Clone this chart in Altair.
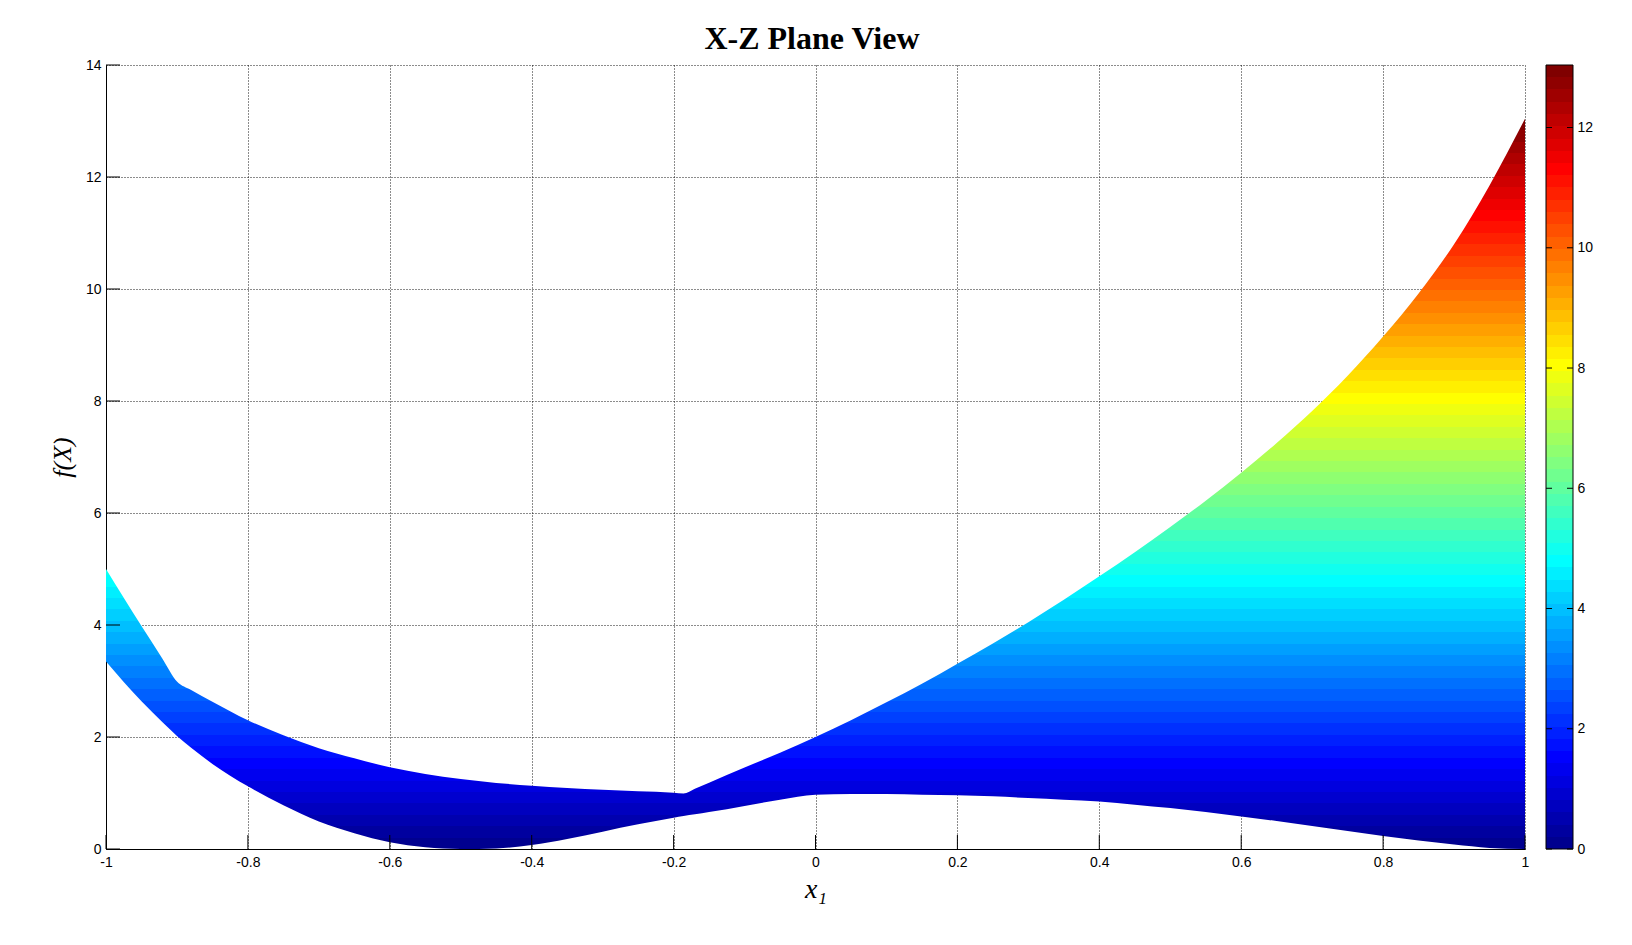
import altair as alt
import pandas as pd

# ---- data ----
X = [-1, -0.95, -0.92, -0.9, -0.88, -0.85, -0.8, -0.75, -0.7, -0.65, -0.6, -0.55,
     -0.5, -0.45, -0.4, -0.35, -0.3, -0.25, -0.2, -0.186, -0.17, -0.15, -0.1,
     -0.05, 0, 0.05, 0.1, 0.15, 0.2, 0.25, 0.3, 0.35, 0.4,
     0.45, 0.5, 0.55, 0.6, 0.65, 0.7, 0.75, 0.8, 0.85, 0.9,
     0.95, 1.0]
UPPER = [5.0, 3.98, 3.39, 2.99, 2.84, 2.63, 2.30, 2.03, 1.80, 1.62, 1.46, 1.34,
         1.25, 1.18, 1.13, 1.09, 1.06, 1.03, 1.005, 0.99, 1.075, 1.185, 1.455,
         1.72, 2.0, 2.30, 2.62, 2.95, 3.31, 3.67, 4.05, 4.45, 4.87,
         5.30, 5.75, 6.22, 6.72, 7.25, 7.82, 8.45, 9.15, 9.92, 10.8,
         11.85, 13.04]
LOWER = [3.35, 2.64, 2.26, 2.02, 1.81, 1.52, 1.12, 0.78, 0.49, 0.28, 0.12, 0.03,
         0.0, 0.01, 0.07, 0.18, 0.31, 0.44, 0.56, 0.59, 0.62, 0.66, 0.77,
         0.88, 0.97, 0.98, 0.98, 0.97, 0.96, 0.94, 0.91, 0.88, 0.85,
         0.79, 0.73, 0.66, 0.58, 0.50, 0.41, 0.32, 0.23, 0.15, 0.08,
         0.02, 0.0]
XTICKS = [-1, -0.8, -0.6, -0.4, -0.2, 0, 0.2, 0.4, 0.6, 0.8, 1]
YTICKS = [0, 2, 4, 6, 8, 10, 12, 14]
CTICKS = [0, 2, 4, 6, 8, 10, 12]
CMIN, CMAX = 0.0, 13.04

TITLE = "X-Z Plane View"
XTITLE = "x\u2081"
YTITLE = "f(X)"


# ---- MATLAB jet(64) colour map (style) ----
def jet(m=64):
    n = -(-m // 4)
    u = [i / n for i in range(1, n + 1)] + [1.0] * (n - 1) + [i / n for i in range(n, 0, -1)]
    g0 = -(-n // 2) - (1 if m % 4 == 1 else 0)
    cols = [[0.0, 0.0, 0.0] for _ in range(m)]
    for k, val in enumerate(u):
        gi, ri, bi = g0 + k, g0 + k + n, g0 + k - n
        if 0 <= ri < m:
            cols[ri][0] = val
        if 0 <= gi < m:
            cols[gi][1] = val
        if 0 <= bi < m:
            cols[bi][2] = val
    return ["#%02x%02x%02x" % tuple(int(round(c * 255)) for c in col) for col in cols]


JET = jet(64)
stops = []
for i, c in enumerate(JET):
    stops.append(alt.GradientStop(offset=i / len(JET), color=c))
    stops.append(alt.GradientStop(offset=(i + 1) / len(JET), color=c))
grad = alt.LinearGradient(gradient="linear", stops=stops, x1=0, x2=0, y1=1, y2=0)

df = pd.DataFrame({"x": X, "upper": UPPER, "lower": LOWER})

xscale = alt.Scale(domain=[-1, 1], nice=False, zero=False)
yscale = alt.Scale(domain=[0, 14], nice=False)

label_font = "Liberation Sans"
serif = "Liberation Serif"

xaxis = alt.Axis(
    values=XTICKS, labelExpr="'' + datum.value", title=XTITLE,
    ticks=False, labelPadding=6, labelFlush=False, labelOverlap=False,
    labelFont=label_font, labelFontSize=14, labelColor="black",
    domainColor="black", domainWidth=1,
    grid=True, gridColor="black", gridDash=[1, 2], gridOpacity=0.9, gridWidth=1,
    titleFont=serif, titleFontSize=28, titleFontStyle="italic", titleFontWeight="normal",
    titleColor="black", titlePadding=6,
)
yaxis = alt.Axis(
    values=YTICKS, labelExpr="'' + datum.value", title=YTITLE,
    ticks=False, labelPadding=5, labelFlush=False, labelOverlap=False,
    labelFont=label_font, labelFontSize=14, labelColor="black",
    domainColor="black", domainWidth=1,
    grid=True, gridColor="black", gridDash=[1, 2], gridOpacity=0.9, gridWidth=1,
    titleFont=serif, titleFontSize=26, titleFontStyle="italic", titleFontWeight="normal",
    titleColor="black", titlePadding=10,
)

area = alt.Chart(df).mark_area(color=grad, interpolate="monotone", strokeWidth=0).encode(
    x=alt.X("x:Q", scale=xscale, axis=xaxis),
    y=alt.Y("upper:Q", scale=yscale, axis=yaxis),
    y2="lower:Q",
)

xt = alt.Chart(pd.DataFrame({"v": XTICKS})).mark_tick(
    orient="vertical", size=14, thickness=1, yOffset=-7, color="black", opacity=1
).encode(x=alt.X("v:Q", scale=xscale, axis=xaxis), y=alt.Y(datum=0, scale=yscale, axis=yaxis))

yt = alt.Chart(pd.DataFrame({"v": YTICKS})).mark_tick(
    orient="horizontal", size=14, thickness=1, xOffset=7, color="black", opacity=1
).encode(y=alt.Y("v:Q", scale=yscale, axis=yaxis), x=alt.X(datum=-1, scale=xscale, axis=xaxis))

main = alt.layer(area, xt, yt).properties(width=1419, height=784)

# ---- colour bar ----
cscale = alt.Scale(domain=[CMIN, CMAX], nice=False, zero=False)
cbx = alt.Scale(domain=[0, 1], nice=False, zero=False)
caxis = alt.Axis(
    orient="right", values=CTICKS, labelExpr="'' + datum.value", title=None,
    ticks=False, domain=False, grid=False, labelPadding=4, labelOverlap=False,
    labelFlush=False, labelFont=label_font, labelFontSize=14, labelColor="black",
)
cbar_rect = alt.Chart(pd.DataFrame({"lo": [CMIN], "hi": [CMAX]})).mark_rect(
    color=grad, stroke="black", strokeWidth=1
).encode(
    y=alt.Y("lo:Q", scale=cscale, axis=caxis),
    y2="hi:Q",
    x=alt.X(datum=0, scale=cbx, axis=None),
    x2=alt.X2(datum=1),
)
ct_left = alt.Chart(pd.DataFrame({"v": CTICKS})).mark_tick(
    orient="horizontal", size=6, thickness=1, xOffset=3, color="black", opacity=1
).encode(y=alt.Y("v:Q", scale=cscale, axis=caxis), x=alt.X(datum=0, scale=cbx, axis=None))
ct_right = alt.Chart(pd.DataFrame({"v": CTICKS})).mark_tick(
    orient="horizontal", size=6, thickness=1, xOffset=-3, color="black", opacity=1
).encode(y=alt.Y("v:Q", scale=cscale, axis=caxis), x=alt.X(datum=1, scale=cbx, axis=None))

cbar = alt.layer(cbar_rect, ct_left, ct_right).properties(width=27, height=784)

chart = alt.hconcat(main, cbar, spacing=21, bounds="flush").properties(
    title=alt.TitleParams(
        TITLE, font=serif, fontSize=32, fontWeight="bold", color="black",
        anchor="middle", offset=2, dx=-9,
    ),
    padding={"left": 40, "top": 14, "right": 10, "bottom": 10},
    background="white",
).configure_view(stroke="transparent")

chart.save("out.html", embed_options={"renderer": "svg", "actions": False})
